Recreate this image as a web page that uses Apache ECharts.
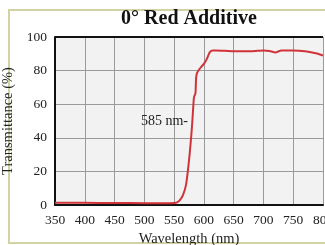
<!DOCTYPE html>
<html><head><meta charset="utf-8">
<script src="https://cdn.jsdelivr.net/npm/echarts@6/dist/echarts.min.js"></script>
<style>html,body{margin:0;padding:0;background:#fff}#c{width:325px;height:245px}</style>
</head><body><div id="c"></div>
<script>
const titleText = '0° Red Additive';
const xName = 'Wavelength (nm)';
const yName = 'Transmittance (%)';
const wavelengths = [350,400,450,500,540,550,555,560,565,570,573,576,579,581,583,584,585,586,587,589,595,600,605,610,615,620,650,680,700,710,720,730,750,770,790,800];
const transmittance = [1.3,1.3,1.2,1.1,1.1,1.2,1.6,3,6,12,20,30,42,52,63,65,65.5,67,76,79,82,84,87,91,92,92,91.5,91.5,92,91.7,90.8,92,92,91.5,90.2,89];
const annotation = {wl: 585, t: 50, text: '585 nm-'};
const font = 'Liberation Serif';
const chart = echarts.init(document.getElementById('c'));
chart.setOption({
  animation:false,
  backgroundColor:'#fff',
  title:{text:titleText,left:184,top:4,textAlign:'center',textStyle:{fontFamily:font,fontWeight:'bold',fontSize:20,color:'#111'}},
  graphic:[{type:'rect',shape:{x:9,y:10,width:330,height:233},style:{fill:'none',stroke:'#d2d2a4',lineWidth:2},z:-1}],
  grid:{left:55,top:37,right:2,bottom:40,backgroundColor:'#f2f2f2',show:true,borderWidth:0,outerBoundsMode:'none',containLabel:false},
  xAxis:{type:'value',min:350,max:800,interval:50,name:xName,nameLocation:'middle',nameGap:27,
    nameTextStyle:{fontFamily:font,fontSize:14.5,color:'#222'},
    axisLine:{lineStyle:{color:'#111',width:2}},axisTick:{show:false},
    axisLabel:{fontFamily:font,fontSize:13.5,color:'#222',margin:8,showMaxLabel:true,hideOverlap:false},
    splitLine:{lineStyle:{color:'#9a9a9a',width:1}}},
  yAxis:{type:'value',min:0,max:100,interval:20,name:yName,nameLocation:'middle',nameGap:33,
    nameTextStyle:{fontFamily:font,fontSize:14.5,color:'#222'},
    axisLine:{show:true,lineStyle:{color:'#111',width:2}},axisTick:{show:false},
    axisLabel:{fontFamily:font,fontSize:13.5,color:'#222',margin:8},
    splitLine:{lineStyle:{color:'#9a9a9a',width:1}}},
  series:[{type:'line',data:wavelengths.map((w,i)=>[w,transmittance[i]]),showSymbol:false,smooth:0.2,
    lineStyle:{color:'#d0343a',width:2},clip:true,
    markPoint:{symbol:'circle',symbolSize:0,data:[{coord:[annotation.wl,annotation.t]}],
      label:{show:true,position:'left',distance:7,formatter:annotation.text,fontFamily:font,fontSize:14,color:'#222'}}},
   {type:'line',data:[[350,100],[800,100]],showSymbol:false,lineStyle:{color:'#111',width:2},silent:true}]
});
</script></body></html>
